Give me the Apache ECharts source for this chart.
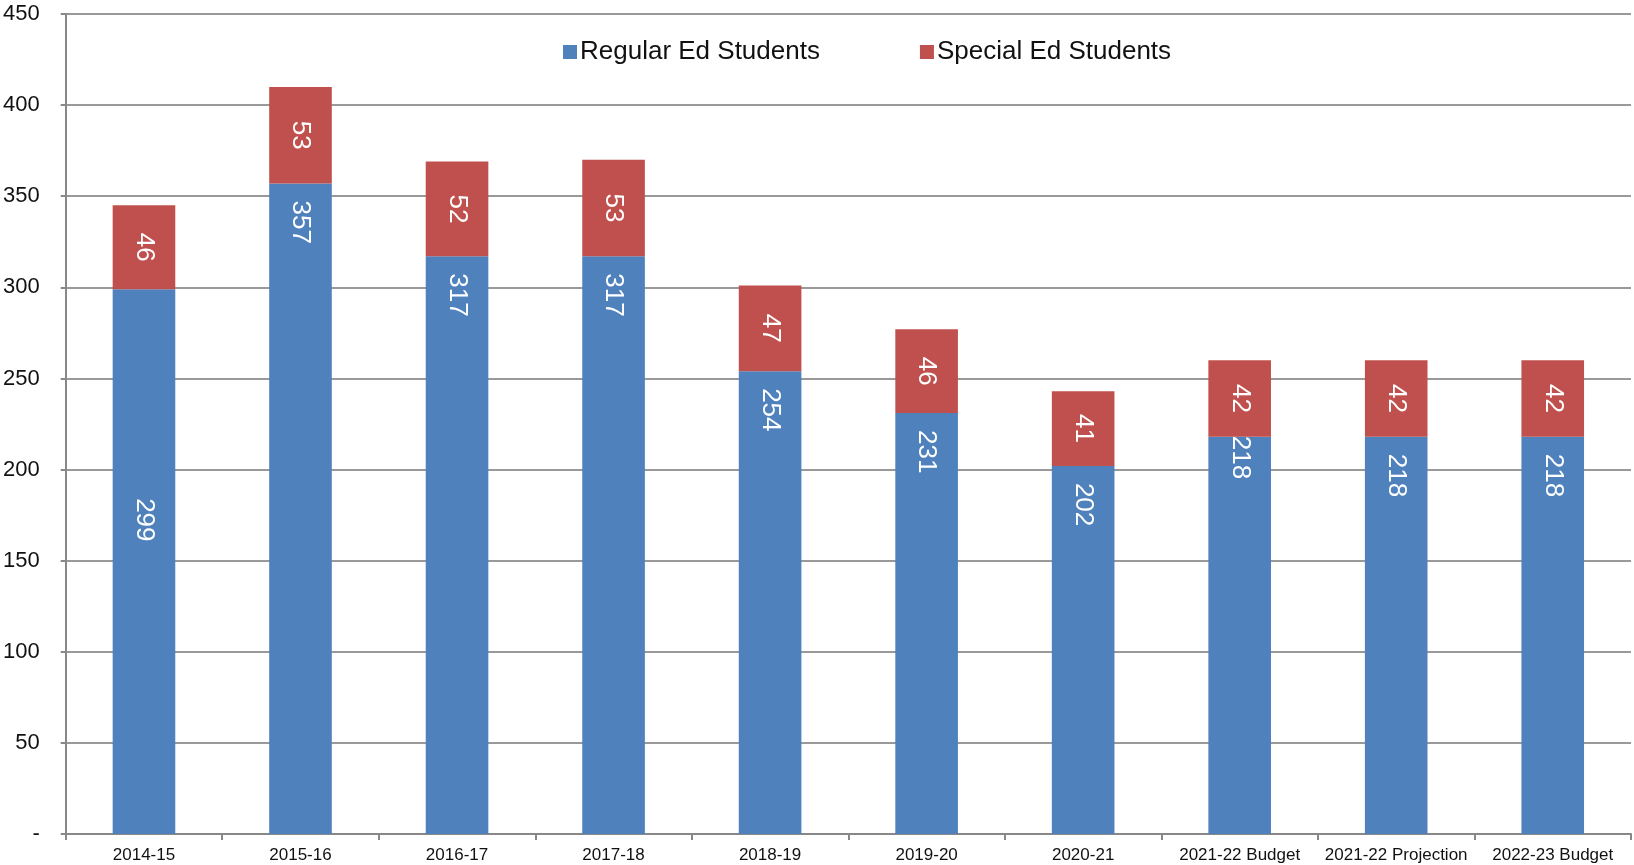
<!DOCTYPE html>
<html>
<head>
<meta charset="utf-8">
<script src="https://cdn.jsdelivr.net/npm/echarts@6/dist/echarts.min.js"></script>
<style>html,body{margin:0;padding:0;background:#fff}#c{width:1634px;height:865px}</style>
</head>
<body>
<div id="c"></div>
<script>
const categories = ['2014-15','2015-16','2016-17','2017-18','2018-19','2019-20','2020-21','2021-22 Budget','2021-22 Projection','2022-23 Budget'];
const regularEd = [299,357,317,317,254,231,202,218,218,218];
const specialEd = [46,53,52,53,47,46,41,42,42,42];
const yTicks = { min: 0, max: 450, interval: 50 };

// label placement tweaks (style, not data)
const blueLabelShift = {0: 192, 7: -18};

const chart = echarts.init(document.getElementById('c'));
const font = 'Liberation Sans, Arial, sans-serif';
const blueData = regularEd.map((v, i) => {
  const o = { value: v };
  if (blueLabelShift[i] !== undefined) o.label = { offset: [blueLabelShift[i], 0] };
  return o;
});
chart.setOption({
  animation: false,
  textStyle: { fontFamily: font },
  grid: { left: 65, right: 3, top: 14, bottom: 31, containLabel: false },
  legend: {
    left: 558, top: 34, itemWidth: 14, itemHeight: 14, itemGap: 100,
    icon: 'rect',
    textStyle: { fontSize: 26, color: '#111', fontFamily: font, padding: [0,0,0,-2] },
    data: ['Regular Ed Students', 'Special Ed Students']
  },
  xAxis: {
    type: 'category', data: categories,
    axisLine: { lineStyle: { color: '#888', width: 2 } },
    axisTick: { show: true, length: 6, lineStyle: { color: '#888', width: 2 } },
    axisLabel: { fontSize: 17, color: '#111', margin: 13, interval: 0 }
  },
  yAxis: {
    type: 'value', min: yTicks.min, max: yTicks.max, interval: yTicks.interval,
    axisLine: { show: true, lineStyle: { color: '#888', width: 2 } },
    axisTick: { show: true, length: 5, lineStyle: { color: '#888', width: 2 } },
    splitLine: { lineStyle: { color: '#999', width: 2 } },
    axisLabel: { fontSize: 22, color: '#111', margin: 26, formatter: v => v === 0 ? '-' : String(v) }
  },
  series: [
    {
      name: 'Regular Ed Students', type: 'bar', stack: 's', barWidth: '40%',
      itemStyle: { color: '#4F81BD' },
      label: { show: true, position: 'insideTop', distance: 17, rotate: -90, align: 'left', verticalAlign: 'middle', color: '#fff', fontSize: 26, fontFamily: font },
      data: blueData
    },
    {
      name: 'Special Ed Students', type: 'bar', stack: 's', barWidth: '40%',
      itemStyle: { color: '#C0504D' },
      label: { show: true, position: 'inside', rotate: -90, color: '#fff', fontSize: 26, fontFamily: font },
      data: specialEd
    }
  ]
});
</script>
</body>
</html>
